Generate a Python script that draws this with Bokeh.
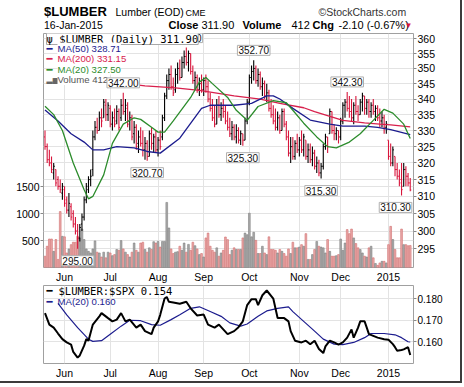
from bokeh.plotting import figure
from bokeh.layouts import column
from bokeh.models import (Range1d, LinearScale, LinearAxis, FixedTicker,
                          PrintfTickFormatter, Label, Grid)
from bokeh.embed import file_html
from bokeh.resources import INLINE

# ---------------- data (daily bars, 19-May-2014 .. 16-Jan-2015) ----------------
opens = [328,325,321,320,317,318,315,313,311,312, 309,306,307,305,302,300,298,302,304,309,
         312,315,318,328,331,330,334,334,338,335, 337,332,334,333,336,334,338,336,337,333,
         334,329,331,326,328,326,324,326,322,329, 326,328,324,327,328,334,341,346,348,344,
         343,348,350,347,352,354,352,355,349,346, 347,343,345,343,346,344,340,337,334,332,
         338,335,337,336,333,331,329,331,328,330, 327,329,327,333,339,347,349,350,346,348,
         344,345,341,342,337,335,333,331,334,330, 336,332,328,323,325,322,326,324,327,324,
         327,322,324,321,323,319,320,317,319,325, 328,329,336,330,329,330,328,333,338,339,
         337,336,334,338,336,335,339,341,337,339, 336,338,336,337,334,333,334,331,327,322,
         320,322,318,316,315,313,318,316,314]
highs = [330,326,324,322,320,318,316,315,314,313, 310,311,308,306,304,302,302,305,310,314,
         316,318,330,333,334,336,337,340,340,339, 338,336,337,338,337,340,342,340,339,336,
         335,333,332,330,331,330,328,327,330,331, 329,330,328,330,335,342,348,350,351,347,
         350,352,353,354,356,357,356,355,351,349, 348,347,348,347,348,346,342,340,338,340,
         341,339,340,338,336,334,333,332,332,331, 330,329,334,340,348,351,352.7,351,350,349,
         347,346,345,343,340,338,337,336,335,337, 337,333,330,328,328,327,329,328,330,329,
         327,326,326,325,324,322,321,320,326,329, 328,337,336,332,331,330,334,339,340,342.3,
         341,340,339,341,338,340,342,341,340,340, 339,340,338,338,337,336,335,333,327,326,
         325,322,320,318,320,320,319,317,315.5]
lows = [324,320,319,317,315,313,312,311,309,307, 305,304,303,301,299,295,297,300,303,308,
        311,313,316,327,329,330,331,334,333,333, 331,330,331,332,330,333,335,333,331,330,
        327,326,324,323,325,322,321,320.7,322,324, 323,323,322,324,327,333,340,343,343,341,
        342,345,346,347,350,351,349,348,345,343, 342,341,342,341,342,339,336,333,331,332,
        334,333,334,332,330,328,327,327,326,326, 325.5,325.3,327,332,338,345,346,345,344,343,
        341,340,339,336,334,332,330,330,329,330, 331,327,322,320,321,321,323,322,323,322,
        321,320,320,319,318,317,316,315.3,318,324, 323,329,329,327,327,326,327,332,334,336,
        334,333,332,335,333,335,336,335,335,334, 334,335,333,333,331,331,329,329,321,319,
        319,316,315,313,310.3,313,313,313,311.5]
closes = [325,321,320,318,319,314,313,312,313,308, 306,308,304,302,300,298,301,304,309,313,
          315,316,328,331,330,334,333,339,335,338, 332,334,332,336,331,338,336,338,332,334,
          328,331,325,328,326,324,326,322,329,326, 328,324,327,325,334,341,346,348,344,342,
          348,350,347,352,354,352,355,349,346,347, 343,345,343,346,344,340,337,334,332,338,
          335,337,336,333,331,329,331,328,330,327, 329,327,333,339,347,349,350,346,348,344,
          345,341,342,337,335,333,331,334,330,336, 332,328,323,325,322,326,324,327,324,328,
          322,324,321,323,319,320,317,319,325,328, 325,336,330,329,330,328,333,338,339,337,
          336,334,338,336,335,339,341,337,339,336, 338,336,337,334,333,334,331,332,322,320,
          324,318,316,314,312,318,316,314,311.9]
volumes = [210,395,530,530,300,520,150,1040,580,570, 270,345,425,470,470,580,550,715,520,345,
           300,270,345,495,285,270,195,285,180,285, 270,220,240,335,320,500,345,285,240,195,
           285,455,320,285,455,470,335,285,365,335, 480,455,485,380,485,485,1210,735,345,260,
           285,295,395,320,455,285,430,320,470,405, 345,240,260,195,550,640,395,320,285,365,
           210,270,320,567,518,
           240,320,365,335,335,335,550,640,610,1010, 570,655,505,260,260,395,270,240,570,335,
           335,320,270,335,300,260,210,345,260,470, 365,365,380,425,395,630,150,150,240,335,
           485,395,380,365,270,520,300,210,210,220, 240,530,320,455,705,630,715,550,445,365,
           335,270,210,195,365,395,180,75,40,85, 115,115,85,425,765,520,335,180,180,715,
           425,425,405,410]

ma20_x = [0, 4, 8, 13, 18, 20, 22, 27, 31, 36, 41, 44, 49, 52, 55, 59, 67, 71, 74, 77, 84, 88,
          93, 98, 105, 111, 114, 119, 125, 130, 134, 140, 145, 151, 156, 160, 165, 168]
ma20_v = [337.7, 335, 330, 320, 312, 309.3, 310, 316.4, 326, 332, 334, 333.5, 331, 329.5, 329.5,
          333, 340.5, 345.5, 347, 345, 340.5, 336.4, 333.2, 337.6, 339.5, 338.8, 336.4, 332.3,
          328, 325, 324.6, 326.4, 329, 333.2, 336.7, 335.5, 332, 327.5]
ma50_x = [0, 6, 12, 18, 22, 27, 33, 41, 47, 53, 62, 72, 76, 87, 95, 102, 105, 108, 114, 122,
          131, 137, 147, 153, 159, 168]
ma50_v = [336.5, 333, 329, 326.4, 324, 324, 325, 324.6, 323.5, 323, 327.6, 337, 338, 338, 338.6,
          341, 341, 340, 337, 333.3, 332, 331.4, 331.4, 331, 330.3, 328.71]
ma200_x = [28, 46, 60, 71, 87, 99, 108, 119, 124, 137, 147, 154, 159, 168]
ma200_v = [345.8, 344.3, 343.6, 342.8, 341, 340, 338.6, 337.2, 336, 333.2, 332.4, 332, 331.8, 331.15]

ratio_x = [0,2,4,6,8,10,12,13,15,16,18,19,20,22,25,26,29,31,33,35,37,39,42,44,46,49,50,52,53,55,
           56,57,59,62,65,67,70,73,75,78,80,82,84,87,89,91,93,95,97,98,100,102,105,106,107,110,
           112,113,115,118,120,122,124,126,128,129,131,133,135,137,139,141,142,144,145,147,148,
           149,151,153,156,158,160,161,162,164,165,167,168]
ratio_v = [0.1733,0.168,0.1666,0.1639,0.1613,0.1598,0.1588,0.1554,0.1528,0.1538,0.1583,0.1613,
           0.1606,0.168,0.1718,0.1733,0.171,0.1695,0.1703,0.1733,0.1695,0.1703,0.1666,0.168,
           0.165,0.1636,0.1666,0.1695,0.1725,0.180,0.1807,0.1785,0.1782,0.1776,0.1785,0.1755,
           0.1722,0.1726,0.168,0.1666,0.168,0.1658,0.1636,0.165,0.1668,0.1695,0.177,0.1797,
           0.1797,0.177,0.1815,0.1837,0.180,0.1755,0.171,0.171,0.1695,0.165,0.1606,0.1598,
           0.1606,0.159,0.1606,0.1568,0.1549,0.158,0.1606,0.1598,0.1588,0.1598,0.162,0.1658,
           0.162,0.1666,0.1695,0.1695,0.1666,0.1636,0.1628,0.162,0.1613,0.161,0.159,0.1576,
           0.156,0.1563,0.1566,0.1576,0.154]
rma_x = [6,10,15,20,22,26,30,35,39,44,49,53,58,62,67,71,76,81,85,90,93,98,102,107,112,114,119,
         124,128,133,137,142,147,150,156,161,164,167,168]
rma_v = [0.1778,0.1725,0.1666,0.1613,0.1603,0.1606,0.1636,0.1673,0.170,0.1698,0.168,0.1677,
         0.1703,0.1725,0.1755,0.1762,0.174,0.1718,0.1688,0.1673,0.1683,0.1718,0.1743,0.1755,
         0.1762,0.174,0.1695,0.165,0.1613,0.159,0.1588,0.1598,0.162,0.1639,0.1639,0.1633,
         0.162,0.1601,0.160]

month_idx = [9, 30, 52, 73, 94, 117, 136, 158]
month_lbl = ["Jun", "Jul", "Aug", "Sep", "Oct", "Nov", "Dec", "2015"]
price_ticks = [295, 300, 305, 310, 315, 320, 325, 330, 335, 340, 345, 350, 355, 360]
vol_ticks = [500, 1000, 1500]
ratio_ticks = [0.160, 0.170, 0.180]
hidden_peak_idx = [65]          # label sits under the legend box
peak_idx = [36, 96, 139]
trough_idx = [15, 47, 91, 127, 164]

# ---------------- styling ----------------
FONT = "Liberation Sans"
MONO = "DejaVu Sans Mono"
GRID = "#e3e3e3"
FRAME = "#a0a0a0"
RED = "#d8163c"
NAVY = "#1c1c8e"
GREEN = "#2c8c2c"
MA200C = "#d8204c"
W = 460
BL, BR = 43, W - 413     # left / right borders shared by all panels

n = len(closes)
idx = list(range(n))
bar_col = [RED if (i == 0 or closes[i] < closes[i - 1]) else "#000000" for i in idx]
vol_fill = ["#eaa9a9" if c == RED else "#ababab" for c in bar_col]
vol_line = ["#d27070" if c == RED else "#808080" for c in bar_col]

# ---------------- header strip (frame spans page x 43..413) ----------------
ph = figure(width=W, height=33, x_range=Range1d(BL, W - BR), y_range=Range1d(33, 0),
            x_axis_location=None, y_axis_location=None, output_backend="svg",
            toolbar_location=None, min_border_left=BL, min_border_right=BR,
            min_border_top=0, min_border_bottom=0)
ph.outline_line_color = None
ph.grid.visible = False


def hl(X, Y, text, size="11px", color="#000000", style="normal", font=FONT):
    ph.add_layout(Label(x=X, y=Y, text=text, text_font=font, text_font_size=size,
                        text_color=color, text_font_style=style, text_baseline="middle"))


hl(43.5, 11, "$LUMBER", size="13px", style="bold")
hl(115, 11.5, "Lumber (EOD)", size="10.5px")
hl(185, 12, "CME", size="9px")
hl(318, 11.5, "\u00a9StockCharts.com", size="10.5px", color="#333333")
hl(43.5, 24.5, "16-Jan-2015", size="10.5px")
hl(168, 24.5, "Close", size="11px", style="bold")
hl(201, 24.5, "311.90", size="11px")
hl(242, 24.5, "Volume", size="11px", style="bold")
hl(291, 24.5, "412", size="11px")
hl(312, 24.5, "Chg", size="11px", style="bold")
hl(338, 24.5, "-2.10 (-0.67%)", size="11px")
hl(404, 24.5, "\u25bc", size="8px", color=RED)

# ---------------- price / volume panel ----------------
pa = figure(width=W, height=252, x_range=Range1d(-0.69, 169.5), y_range=Range1d(289.8, 361.8),
            y_axis_type="log", y_axis_location="right", output_backend="svg",
            toolbar_location=None, min_border_left=BL, min_border_right=BR,
            min_border_top=0, min_border_bottom=17)
pa.extra_y_ranges = {"vol": Range1d(0, 4352)}
pa.extra_y_scales = {"vol": LinearScale()}
pa.outline_line_color = FRAME
pa.background_fill_color = "white"
pa.border_fill_color = "white"


def style_axis(ax, size="10.5px"):
    ax.axis_line_color = None
    ax.major_tick_in = 0
    ax.minor_tick_in = 0
    ax.minor_tick_out = 0
    ax.major_tick_line_color = "#888888"
    ax.major_label_text_font = FONT
    ax.major_label_text_font_size = size
    ax.major_label_text_color = "#000000"


ya = pa.yaxis[0]
ya.ticker = FixedTicker(ticks=price_ticks)
ya.formatter = PrintfTickFormatter(format="%d")
style_axis(ya)
ya.major_tick_out = 3
ya.major_label_standoff = 1

va = LinearAxis(y_range_name="vol", ticker=FixedTicker(ticks=vol_ticks))
style_axis(va)
va.major_tick_out = 3
va.major_label_standoff = 1
pa.add_layout(va, "left")

xa = pa.xaxis[0]
xa.ticker = FixedTicker(ticks=month_idx)
xa.major_label_overrides = {m: l for m, l in zip(month_idx, month_lbl)}
style_axis(xa)
xa.major_tick_out = 0
xa.major_label_standoff = 3

pa.xgrid.ticker = FixedTicker(ticks=month_idx)
pa.ygrid.ticker = FixedTicker(ticks=price_ticks)
pa.grid.grid_line_color = GRID
pa.add_layout(Grid(dimension=1, ticker=FixedTicker(ticks=vol_ticks), y_range_name="vol",
                   grid_line_color=GRID), "center")

# volume
pa.vbar(x=idx, top=volumes, width=0.8, bottom=0, y_range_name="vol",
        fill_color=vol_fill, line_color=vol_line, line_width=0.6)
# OHLC bars
pa.segment(x0=idx, y0=lows, x1=idx, y1=highs, line_color=bar_col, line_width=1.1)
pa.segment(x0=[i - 0.5 for i in idx], y0=opens, x1=idx, y1=opens, line_color=bar_col, line_width=1)
pa.segment(x0=idx, y0=closes, x1=[i + 0.5 for i in idx], y1=closes, line_color=bar_col, line_width=1)
# moving averages
pa.line(ma200_x, ma200_v, line_color=MA200C, line_width=1.3)
pa.line(ma50_x, ma50_v, line_color=NAVY, line_width=1.3)
pa.line(ma20_x, ma20_v, line_color=GREEN, line_width=1.3)


def callout(i, val, top, dx=0):
    pa.add_layout(Label(x=i, y=val, text="%.2f" % val, text_align="center",
                        text_baseline="bottom" if top else "top", x_offset=dx,
                        y_offset=5 if top else -7, text_font=FONT, text_font_size="10px",
                        text_color="#111111", background_fill_color="white",
                        border_line_color="#b0b0b0", border_line_width=1, padding=1))


for i in hidden_peak_idx:
    callout(i, highs[i], True)


# legend text in page pixels, relative to each panel's frame bottom-left corner
def lab(fig, fx, fy, X, Y, text, size="10px", color="#000000", font=FONT, style="normal",
        align="left", **kw):
    fig.add_layout(Label(x=X - fx, y=fy - Y, x_units="screen", y_units="screen", text=text,
                         text_font=font, text_font_size=size, text_color=color,
                         text_font_style=style, text_align=align, text_baseline="middle", **kw))


A = (43, 268)
lab(pa, *A, 46, 39, "\u03c8 $LUMBER (Daily) 311.90", size="10.5px", font=MONO,
    background_fill_color="white", border_line_color="#a8a8a8", padding=0)
leg = [("MA(50) 328.71", NAVY, 48.5), ("MA(200) 331.15", MA200C, 59),
       ("MA(20) 327.50", GREEN, 69.5)]
for txt, col, yy in leg:
    lab(pa, *A, 46, yy, "\u2501", size="10px", color=col, font="DejaVu Sans")
    lab(pa, *A, 57, yy, txt, size="9.6px", color=col, background_fill_color="white")
lab(pa, *A, 46, 80, "\u2582\u2585\u2583", size="8px", color="#666666", font="DejaVu Sans")
lab(pa, *A, 57, 80, "Volume 412", size="9.6px", color="#555555", background_fill_color="white")

for i in peak_idx:
    callout(i, highs[i], True)
for i in trough_idx:
    callout(i, lows[i], False, -6 if i == trough_idx[-1] else 0)

# ---------------- lower panel ----------------
pb = figure(width=W, height=96, x_range=pa.x_range, y_range=Range1d(0.1501, 0.186),
            y_axis_location="right", output_backend="svg", toolbar_location=None,
            min_border_left=BL, min_border_right=BR, min_border_top=0, min_border_bottom=16)
pb.outline_line_color = FRAME
pb.border_fill_color = "white"
yb = pb.yaxis[0]
yb.ticker = FixedTicker(ticks=ratio_ticks)
yb.formatter = PrintfTickFormatter(format="%.3f")
style_axis(yb, "10px")
yb.major_tick_out = 3
yb.major_label_standoff = 1
xb = pb.xaxis[0]
xb.ticker = FixedTicker(ticks=month_idx)
xb.major_label_overrides = {m: l for m, l in zip(month_idx, month_lbl)}
style_axis(xb)
xb.major_tick_out = 0
xb.major_label_standoff = 3
pb.xgrid.ticker = FixedTicker(ticks=month_idx)
pb.ygrid.ticker = FixedTicker(ticks=ratio_ticks)
pb.grid.grid_line_color = GRID

pb.line(rma_x, rma_v, line_color=NAVY, line_width=1.2)
pb.line(ratio_x, ratio_v, line_color="#000000", line_width=2)

B = (43, 365)
lab(pb, *B, 46, 292, "\u2501", size="10px", color="#000000", font="DejaVu Sans")
lab(pb, *B, 58, 292, "$LUMBER:$SPX 0.154", size="10.5px", font=MONO)
lab(pb, *B, 46, 302.5, "\u2501", size="10px", color=NAVY, font="DejaVu Sans")
lab(pb, *B, 57, 302.5, "MA(20) 0.160", size="9.6px", color=NAVY)

layout = column(ph, pa, pb, spacing=0,
                styles={"border-right": "2px solid #3c3c3c", "border-bottom": "2px solid #3c3c3c"})
open("out.html", "w").write(file_html(layout, INLINE))
